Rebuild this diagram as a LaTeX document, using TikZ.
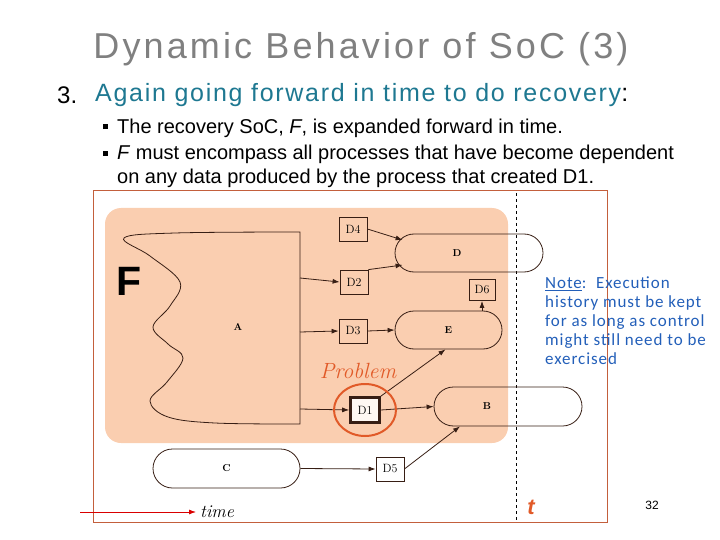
\documentclass[tikz,border=0pt]{standalone}
\usepackage{fontspec}
\newfontfamily\slidefont{Liberation Sans}
\newfontfamily\titlefont[LetterSpace=8.7]{Liberation Sans}
\newfontfamily\subfont[LetterSpace=6.8]{Liberation Sans}
\newfontfamily\notefont[LetterSpace=5.5]{Carlito}
\usetikzlibrary{arrows.meta, positioning, shapes.misc, shapes.geometric}
\definecolor{socpeach}{RGB}{250,206,176}
\definecolor{socteal}{RGB}{30,120,145}
\definecolor{socgray}{RGB}{128,128,128}
\definecolor{socframe}{RGB}{195,95,60}
\definecolor{socorange}{RGB}{225,90,40}
\definecolor{socblue}{RGB}{35,95,185}
\definecolor{socink}{RGB}{55,30,20}

\begin{document}
\begin{tikzpicture}[x=1pt, y=-1pt,
  databox/.style={draw=socink, thick, minimum width=28pt, minimum height=24pt, inner sep=1pt, font=\fontsize{12}{12}\selectfont},
  proc/.style={rounded rectangle, draw=socink, thick, minimum height=38pt, inner sep=0pt, font=\fontsize{10}{10}\selectfont\bfseries},
  plab/.style={font=\fontsize{10}{10}\selectfont\bfseries},
  arr/.style={-{Latex[length=7pt,width=5pt]}, socink, thick},
  bul/.style={anchor=west, font=\slidefont\fontsize{20}{24}\selectfont, align=left, inner sep=0pt}
]
\useasboundingbox (0,0) rectangle (720,540);

% Slide heading
\node[text=socgray, font=\titlefont\fontsize{36}{36}\selectfont] (title) at (361,49) {Dynamic Behavior of SoC (3)};
\node[anchor=west, inner sep=0pt, font=\slidefont\fontsize{24}{24}\selectfont] (num) at (57,95) {3.};
\node[anchor=west, inner sep=0pt, text=socteal, font=\subfont\fontsize{25}{25}\selectfont] (sub) at (95,95) {Again going forward in time to do recovery\textcolor{black}{:}};
\node[bul] (b1) at (103,128) {\raisebox{4pt}{\rule{5pt}{5pt}}\hspace{9pt}The recovery SoC, \textit{F}, is expanded forward in time.};
\node[bul, anchor=north west] (b2) at (103,145) {\raisebox{4pt}{\rule{5pt}{5pt}}\hspace{9pt}\textit{F} must encompass all processes that have become dependent\\\hspace{14pt}on any data produced by the process that created D1.};

% Frame and recovery region
\draw[socframe] (93,190) rectangle (607,522);
\fill[socpeach, rounded corners=16pt] (105,208) rectangle (508,443);
\draw[dashed] (516,193) -- (516,522);

% Process A
\draw[socink, thick] plot[smooth, tension=0.6] coordinates {(300,232) (175,233) (124,238) (150,256) (180,282) (170,306) (153,327) (168,344) (183,358) (167,382) (150,401) (168,417) (215,423) (300,424)} -- cycle;
\node[plab] (a) at (238,327) {A};
\coordinate (a2) at (300,278);
\coordinate (a3) at (300,332);
\coordinate (a1) at (300,409);
\node[font=\slidefont\bfseries\fontsize{41}{41}\selectfont] (f) at (129,281) {F};

% Data items
\node[databox] (d4) at (353,229) {D4};
\node[databox] (d2) at (354,282) {D2};
\node[databox] (d3) at (353,331) {D3};
\node[databox, minimum width=26pt, minimum height=21pt] (d6) at (482,290) {D6};
\node[databox, line width=2.6pt, fill=white!85!socpeach, minimum width=29pt, minimum height=25pt] (d1) at (365,410) {D1};
\node[databox] (d5) at (390,469) {D5};

% Processes
\node[proc, minimum width=148pt, label={[plab, xshift=-12pt]center:D}] (pd) at (469,253) {};
\node[proc, minimum width=107pt] (pe) at (448.5,330) {E};
\node[proc, minimum width=148pt, minimum height=39pt, label={[plab, xshift=-21pt]center:B}] (pb) at (508,406.5) {};
\node[proc, minimum width=147pt, minimum height=39pt] (pc) at (226.5,468.5) {C};

% Flows
\draw[arr] (a2) -- (d2.west);
\draw[arr] (a3) -- (d3.west);
\draw[arr] (a1) -- (d1.west);
\draw[arr] (d4.east) -- ([xshift=8pt,yshift=13pt]pd.west);
\draw[arr] (d2.north east) -- ([xshift=8pt,yshift=-12pt]pd.west);
\draw[arr] (d3.east) -- (pe.west);
\draw[arr] (pe.north -| d6) -- (d6.south);
\draw[arr] (d1.north east) -- ([xshift=-3pt]pe.south);
\draw[arr] (d1.east) -- (pb.west);
\draw[arr] (pc.east) -- (d5.west);
\draw[arr] (d5.east) -- ([xshift=-48pt]pb.south);

% The problem
\node[ellipse, draw=socorange, line width=2pt, minimum width=62pt, minimum height=52pt] (ring) at (d1) {};
\node[text=socorange, font=\itshape\fontsize{22}{22}\selectfont] (prob) at (358,371) {Problem};

% Time axis
\coordinate (tstart) at (80,512);
\node[anchor=west, inner sep=0pt, font=\itshape\fontsize{18}{18}\selectfont] (timelab) at (200,512) {time};
\draw[red!85!black, thick, -{Latex[length=7pt,width=5pt]}] (tstart) -- ([xshift=-4pt]timelab.west);
\node[text=socorange, font=\slidefont\bfseries\itshape\fontsize{22}{22}\selectfont] (tnow) at (531,507) {t};

% Side note
\node[anchor=north west, align=left, inner sep=0pt, text=socblue, font=\notefont\fontsize{17}{19}\selectfont] (note) at (545,277) {\underline{Note}:\ \ Execution\\history must be kept\\for as long as control\\might still need to be\\exercised};
\node[font=\slidefont\fontsize{12}{12}\selectfont] (page) at (652,505) {32};
\end{tikzpicture}
\end{document}
